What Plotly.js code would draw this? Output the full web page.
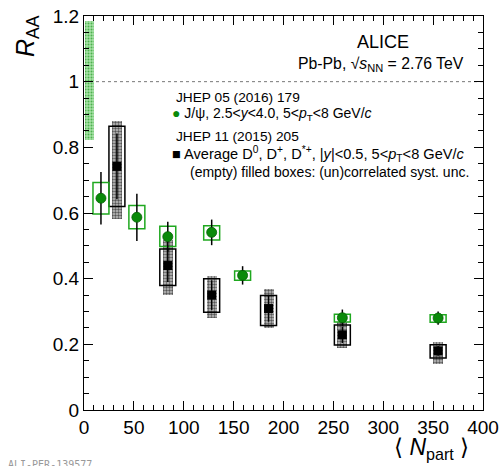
<!DOCTYPE html>
<html>
<head>
<meta charset="utf-8">
<script src="https://cdn.plot.ly/plotly-3.0.1.min.js"></script>
<style>html,body{margin:0;padding:0;background:#fff;} #chart{width:504px;height:466px;}</style>
</head>
<body>
<div id="chart"></div>
<script>
// J/psi (forward rapidity)
const jpsiNpart = [17, 53, 84, 128, 159, 259, 355];
const jpsiRaa   = [0.645, 0.587, 0.528, 0.541, 0.410, 0.281, 0.280];
const jpsiStat  = [0.080, 0.072, 0.045, 0.039, 0.028, 0.025, 0.020];
const jpsiSystLo = [0.597, 0.552, 0.498, 0.518, 0.395, 0.268, 0.267];
const jpsiSystHi = [0.693, 0.623, 0.560, 0.561, 0.423, 0.292, 0.290];

// Average D mesons
const dNpart = [33, 84, 128, 185, 259, 355];
const dRaa   = [0.742, 0.440, 0.350, 0.309, 0.229, 0.180];
const dStat  = [0.100, 0.050, 0.045, 0.040, 0.025, 0.015];
const dUncLo = [0.620, 0.379, 0.298, 0.257, 0.198, 0.158];
const dUncHi = [0.864, 0.490, 0.400, 0.349, 0.259, 0.199];
const dCorLo = [0.581, 0.350, 0.281, 0.249, 0.188, 0.139];
const dCorHi = [0.881, 0.518, 0.409, 0.368, 0.269, 0.208];

// global normalisation uncertainty band
const globNpart = [5.5];
const globLo = [0.821];
const globHi = [1.184];

// reference line
const refX = [0, 400];
const refY = [1, 1];

const font = 'Liberation Sans, Arial, Helvetica, sans-serif';
const diff = (hi, lo) => hi.map((h, i) => h - lo[i]);

const traces = [
  { type: 'bar', x: globNpart, base: globLo, y: diff(globHi, globLo), width: 9,
    marker: { color: '#8fd88f', opacity: 1, line: { width: 0 },
      pattern: { shape: '.', fgcolor: '#4cb24c', bgcolor: '#a8e2a8', size: 3, solidity: 0.35 } },
    showlegend: false, hoverinfo: 'skip' },
  { type: 'scatter', mode: 'lines', x: refX, y: refY,
    line: { color: '#777', width: 1, dash: '3px,3px' }, showlegend: false, hoverinfo: 'skip' },
  { type: 'bar', x: dNpart, base: dCorLo, y: diff(dCorHi, dCorLo), width: 10,
    marker: { color: '#aaa', opacity: 1, line: { width: 0 },
      pattern: { shape: '.', fgcolor: '#555', bgcolor: '#c4c4c4', size: 3, solidity: 0.5 } },
    showlegend: false, hoverinfo: 'skip' },
  { type: 'bar', x: dNpart, base: dUncLo, y: diff(dUncHi, dUncLo), width: 16,
    marker: { color: 'rgba(0,0,0,0)', opacity: 1, line: { color: '#000', width: 1.5 } },
    showlegend: false, hoverinfo: 'skip' },
  { type: 'scatter', mode: 'markers', x: dNpart, y: dRaa,
    error_y: { type: 'data', array: dStat, color: '#000', thickness: 1.5, width: 0 },
    marker: { symbol: 'square', size: 9, color: '#000' }, showlegend: false },
  { type: 'bar', x: jpsiNpart, base: jpsiSystLo, y: diff(jpsiSystHi, jpsiSystLo), width: 16,
    marker: { color: 'rgba(0,0,0,0)', opacity: 1, line: { color: '#1fa81f', width: 1.5 } },
    showlegend: false, hoverinfo: 'skip' },
  { type: 'scatter', mode: 'markers', x: jpsiNpart, y: jpsiRaa,
    error_y: { type: 'data', array: jpsiStat, color: '#000', thickness: 1.5, width: 0 },
    marker: { symbol: 'circle', size: 10, color: '#0a8a0a', line: { color: '#056005', width: 0.8 } },
    showlegend: false }
];

const L = 84, T = 16, W = 399, H = 394;
const px = v => (v - L) / W;
const py = v => (T + H - v) / H;

const ann = (x, y, text, size, opts = {}) => Object.assign({
  xref: 'paper', yref: 'paper', x: px(x), y: py(y), text: text, showarrow: false,
  xanchor: 'left', yanchor: 'middle', font: { family: font, size: size, color: '#000' }
}, opts);

const layout = {
  width: 504, height: 466,
  margin: { l: L, r: 504 - L - W, t: T, b: 466 - T - H, pad: 0 },
  paper_bgcolor: '#fff', plot_bgcolor: '#fff',
  barmode: 'overlay', bargap: 0,
  showlegend: false,
  font: { family: font, size: 18, color: '#000' },
  xaxis: {
    range: [0, 400], dtick: 50, tick0: 0, ticks: 'inside', ticklen: 9, tickwidth: 1,
    tickcolor: '#000', showline: true, linecolor: '#000', linewidth: 1, mirror: 'ticks',
    showgrid: false, zeroline: false, tickfont: { family: font, size: 19 },
    minor: { dtick: 10, ticks: 'inside', ticklen: 5, tickcolor: '#000', showgrid: false }
  },
  yaxis: {
    range: [0, 1.2], dtick: 0.2, tick0: 0, ticks: 'inside', ticklen: 9, tickwidth: 1,
    tickcolor: '#000', showline: true, linecolor: '#000', linewidth: 1, mirror: 'ticks',
    showgrid: false, zeroline: false, tickfont: { family: font, size: 19 },
    minor: { dtick: 0.05, ticks: 'inside', ticklen: 5, tickcolor: '#000', showgrid: false }
  },
  annotations: [
    ann(27, 36, '<i>R</i><sub>AA</sub>', 25, { xanchor: 'center', textangle: -90 }),
    ann(431, 448, '⟨ <i>N</i><sub>part</sub> ⟩', 23, { xanchor: 'center' }),
    ann(383, 42, 'ALICE', 18, { xanchor: 'center' }),
    ann(466, 64, 'Pb-Pb, √<i>s</i><sub>NN</sub> = 2.76 TeV', 15.8, { xanchor: 'right' }),
    ann(174, 97, 'JHEP 05 (2016) 179', 13.7),
    ann(170, 114, '<span style="color:#0a8a0a">●</span> J/ψ, 2.5&lt;<i>y</i>&lt;4.0, 5&lt;<i>p</i><sub>T</sub>&lt;8 GeV/<i>c</i>', 14),
    ann(174, 136, 'JHEP 11 (2015) 205', 13.7),
    ann(170, 154, '■ Average D<sup>0</sup>, D<sup>+</sup>, D<sup>*+</sup>, |<i>y</i>|&lt;0.5, 5&lt;<i>p</i><sub>T</sub>&lt;8 GeV/<i>c</i>', 14.6),
    ann(188, 172, '(empty) filled boxes: (un)correlated syst. unc.', 14),
    ann(6, 465, 'ALI-PER-139577', 10, { font: { family: 'DejaVu Sans Mono, Liberation Mono, monospace', size: 10, color: '#999' } })
  ]
};

Plotly.newPlot('chart', traces, layout, { displayModeBar: false, staticPlot: true });
</script>
</body>
</html>
